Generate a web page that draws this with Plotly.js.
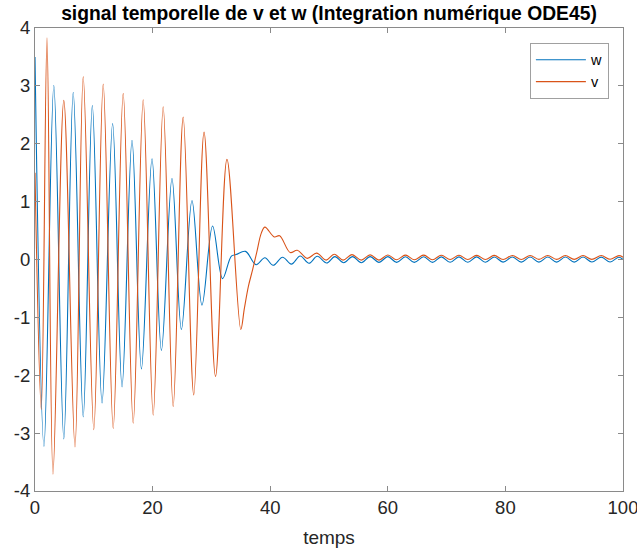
<!DOCTYPE html>
<html>
<head>
<meta charset="utf-8">
<script src="https://cdn.plot.ly/plotly-3.0.1.min.js"></script>
<style>html,body{margin:0;padding:0;background:#fff;}#chart{width:637px;height:551px;}</style>
</head>
<body>
<div id="chart"></div>
<script>
// Time stamps of read points (extrema and shape points) for w
const tW = [0, 1.53, 3.2, 4.9, 6.5, 8.2, 9.75, 11.4, 13.2, 14.8, 16.5, 18.1, 19.9, 21.5, 23.3, 24.9, 26.7, 28.4, 30.2, 31.9,
  33.4, 34.2, 35.8, 37.6, 39.1, 40.5, 42.1, 43.6, 45.1, 46.6, 48.0, 49.6,
  51.0, 52.5, 54.0, 55.5, 57.0, 58.5, 60.0, 61.5, 63.0, 64.5, 66.1, 67.6, 69.1, 70.6, 72.1, 73.6, 75.1, 76.6,
  78.1, 79.6, 81.2, 82.7, 84.2, 85.7, 87.2, 88.7, 90.2, 91.7, 93.2, 94.7, 96.3, 97.8, 99.3, 100];
const wVals = [3.5, -3.23, 3.01, -3.10, 2.89, -2.72, 2.66, -2.48, 2.35, -2.20, 2.06, -1.89, 1.74, -1.57, 1.40, -1.21, 1.02, -0.79, 0.58, -0.33,
  0.06, 0.085, 0.14, -0.09, 0.03, -0.10, 0.04, -0.08, 0.06, -0.065, 0.055, -0.06,
  0.05, -0.055, 0.05, -0.055, 0.05, -0.05, 0.05, -0.05, 0.048, -0.05, 0.047, -0.05, 0.046, -0.048, 0.045, -0.047, 0.045, -0.047,
  0.044, -0.046, 0.044, -0.046, 0.043, -0.045, 0.043, -0.045, 0.042, -0.045, 0.042, -0.044, 0.041, -0.044, 0.04, 0.0];

// Time stamps of read points for v
const tV = [0, 1.07, 2.04, 3.06, 4.9, 6.8, 8.2, 10.0, 11.6, 13.3, 15.0, 16.7, 18.4, 20.1, 21.8, 23.5, 25.2, 27.0, 28.75, 30.7, 32.65,
  35.0, 35.6, 36.3, 37.0, 37.7, 38.5, 39.1, 40.7, 41.6, 43.4, 44.6, 46.3, 47.9, 49.5,
  50.9, 52.4, 53.9, 55.5, 57.0, 58.5, 60.0, 61.5, 63.0, 64.5, 66.1, 67.6, 69.1, 70.6, 72.1, 73.6, 75.1, 76.6,
  78.1, 79.6, 81.2, 82.7, 84.2, 85.7, 87.2, 88.7, 90.2, 91.7, 93.2, 94.7, 96.3, 97.8, 99.3, 100];
const vVals = [1.5, -2.59, 3.83, -3.71, 2.75, -3.24, 3.16, -2.94, 3.03, -2.92, 2.87, -2.83, 2.76, -2.69, 2.64, -2.54, 2.46, -2.34, 2.20, -2.02, 1.73,
  -1.21, -0.85, -0.46, -0.18, 0.12, 0.46, 0.56, 0.39, 0.41, 0.12, 0.16, 0.02, 0.11, -0.01,
  0.09, -0.01, 0.085, -0.01, 0.08, -0.01, 0.078, -0.005, 0.076, -0.005, 0.075, -0.005, 0.074, 0.0, 0.073, 0.0, 0.072, 0.0,
  0.071, 0.0, 0.07, 0.0, 0.07, 0.002, 0.07, 0.002, 0.069, 0.003, 0.068, 0.003, 0.068, 0.004, 0.067, 0.04];

const xTicks = [0, 20, 40, 60, 80, 100];
const yTicks = [-4, -3, -2, -1, 0, 1, 2, 3, 4];
const seriesNames = ['w', 'v'];

const FONT = 'Liberation Sans, Arial, Helvetica, sans-serif';
const axisColor = '#8a8a8a';

const traces = [
  {x: tW, y: wVals, name: seriesNames[0], type: 'scatter', mode: 'lines',
   line: {color: '#0072BD', width: 1.1, shape: 'spline', smoothing: 1}},
  {x: tV, y: vVals, name: seriesNames[1], type: 'scatter', mode: 'lines',
   line: {color: '#D95319', width: 1.1, shape: 'spline', smoothing: 1}}
];

const layout = {
  width: 637, height: 551,
  margin: {l: 35, r: 14, t: 28, b: 60},
  paper_bgcolor: '#fff', plot_bgcolor: '#fff',
  font: {family: FONT, size: 18, color: '#262626'},
  title: {text: 'signal temporelle de v et w (Integration numérique ODE45)',
          font: {family: FONT, size: 19.3, color: '#000', weight: 'bold'},
          x: 0.5, xref: 'paper', y: 1 - 13/551, yref: 'container', yanchor: 'middle'},
  xaxis: {range: [0, 100], tickvals: xTicks, ticktext: xTicks.map(String),
          ticks: 'inside', ticklen: 5, tickcolor: axisColor, tickwidth: 1,
          showline: true, linecolor: axisColor, linewidth: 1, mirror: 'ticks',
          showgrid: false, zeroline: false, ticklabeloverflow: 'allow',
          tickfont: {family: FONT, size: 18.5, color: '#262626'},
          title: {text: 'temps', font: {family: FONT, size: 19, color: '#262626'}, standoff: 13}},
  yaxis: {range: [-4, 4], tickvals: yTicks, ticktext: yTicks.map(String),
          ticks: 'inside', ticklen: 5, tickcolor: axisColor, tickwidth: 1,
          showline: true, linecolor: axisColor, linewidth: 1, mirror: 'ticks',
          showgrid: false, zeroline: false, ticklabeloverflow: 'allow',
          tickfont: {family: FONT, size: 18.5, color: '#262626'}},
  showlegend: true,
  legend: {x: 0.976, xanchor: 'right', y: 0.968, yanchor: 'top',
           bgcolor: '#fff', bordercolor: '#a0a0a0', borderwidth: 1,
           font: {family: FONT, size: 14.5, color: '#000'},
           tracegroupgap: 0, itemwidth: 50}
};

Plotly.newPlot('chart', traces, layout, {displayModeBar: false, staticPlot: true});
</script>
</body>
</html>
